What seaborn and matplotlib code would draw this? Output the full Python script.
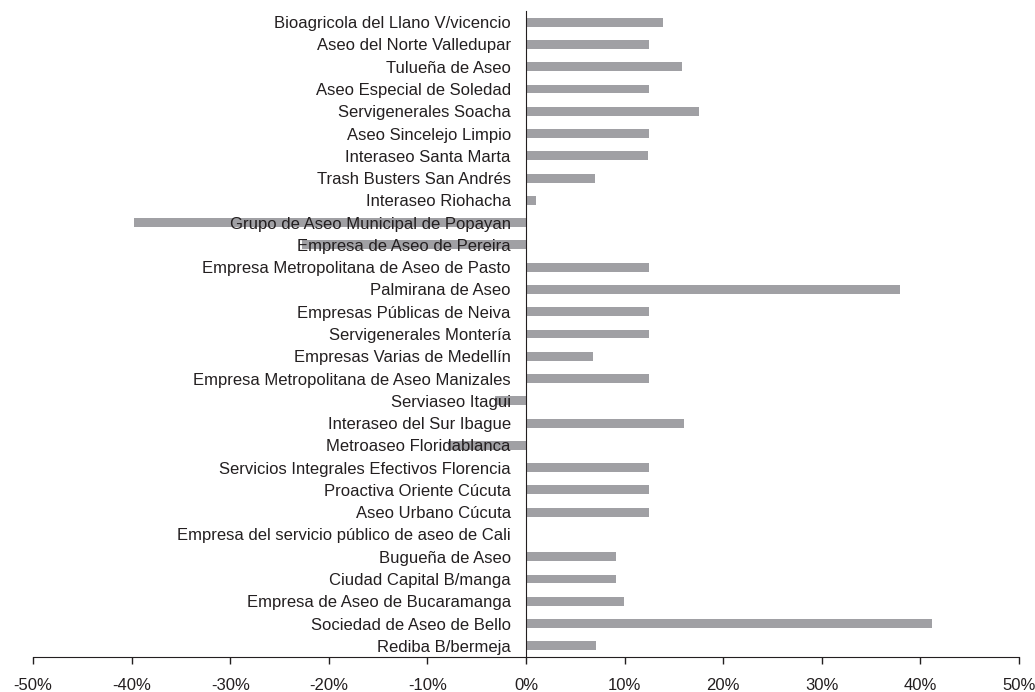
import seaborn as sns
import matplotlib.pyplot as plt
import pandas as pd
import numpy as np

empresas = [
    "Bioagricola del Llano V/vicencio",
    "Aseo del Norte Valledupar",
    "Tulueña de Aseo",
    "Aseo Especial de Soledad",
    "Servigenerales Soacha",
    "Aseo Sincelejo Limpio",
    "Interaseo Santa Marta",
    "Trash Busters San Andrés",
    "Interaseo Riohacha",
    "Grupo de Aseo Municipal de Popayan",
    "Empresa de Aseo de Pereira",
    "Empresa Metropolitana de Aseo de Pasto",
    "Palmirana de Aseo",
    "Empresas Públicas de Neiva",
    "Servigenerales Montería",
    "Empresas Varias de Medellín",
    "Empresa Metropolitana de Aseo Manizales",
    "Serviaseo Itagui",
    "Interaseo del Sur Ibague",
    "Metroaseo Floridablanca",
    "Servicios Integrales Efectivos Florencia",
    "Proactiva Oriente Cúcuta",
    "Aseo Urbano Cúcuta",
    "Empresa del servicio público de aseo de Cali",
    "Bugueña de Aseo",
    "Ciudad Capital B/manga",
    "Empresa de Aseo de Bucaramanga",
    "Sociedad de Aseo de Bello",
    "Rediba B/bermeja",
]

variacion = [13.9, 12.5, 15.8, 12.5, 17.5, 12.5, 12.4, 7.0, 1.0, -39.8,
             -22.7, 12.5, 37.9, 12.5, 12.5, 6.8, 12.5, -3.1, 16.0, -7.9,
             12.5, 12.5, 12.5, 0.0, 9.1, 9.1, 9.9, 41.2, 7.1]

xticks = [-50, -40, -30, -20, -10, 0, 10, 20, 30, 40, 50]

df = pd.DataFrame({"empresa": empresas, "variacion": variacion})

sns.set_style("white")
plt.rcParams["font.family"] = ["Liberation Sans", "DejaVu Sans"]

fig = plt.figure(figsize=(10.35, 6.92), dpi=100)
ax = fig.add_axes([0.032, 0.0506, 0.9525, 0.9334])

sns.barplot(data=df, x="variacion", y="empresa", orient="h", color="#A0A0A4",
            saturation=1, width=0.4, linewidth=0, edgecolor="none", ax=ax)

ax.set_xlim(-50, 50)
ax.set_ylim(len(empresas) - 0.5, -0.5)
ax.set_xticks(xticks)
ax.set_xticklabels([f"{t}%" for t in xticks], fontsize=12, color="#231f20")
ax.set_xlabel("")
ax.set_ylabel("")
ax.set_axisbelow(False)

# eje de categorías en cero
ax.spines["left"].set_position(("data", 0))
ax.spines["left"].set_color("#231f20")
ax.spines["bottom"].set_color("#231f20")
ax.spines["top"].set_visible(False)
ax.spines["right"].set_visible(False)

ax.set_yticks(np.arange(len(empresas)) + 0.5, minor=True)
ax.set_yticks(list(np.arange(len(empresas))), minor=False)
ax.set_yticklabels(empresas)
ax.tick_params(axis="y", which="major", length=0, pad=11, labelsize=12,
               labelcolor="#231f20")
ax.tick_params(axis="y", which="minor", length=4, direction="out",
               color="#231f20", width=1)
ax.tick_params(axis="x", length=5, direction="out", color="#231f20",
               width=1, pad=10, bottom=True)

fig.savefig("out.png", dpi=100)
